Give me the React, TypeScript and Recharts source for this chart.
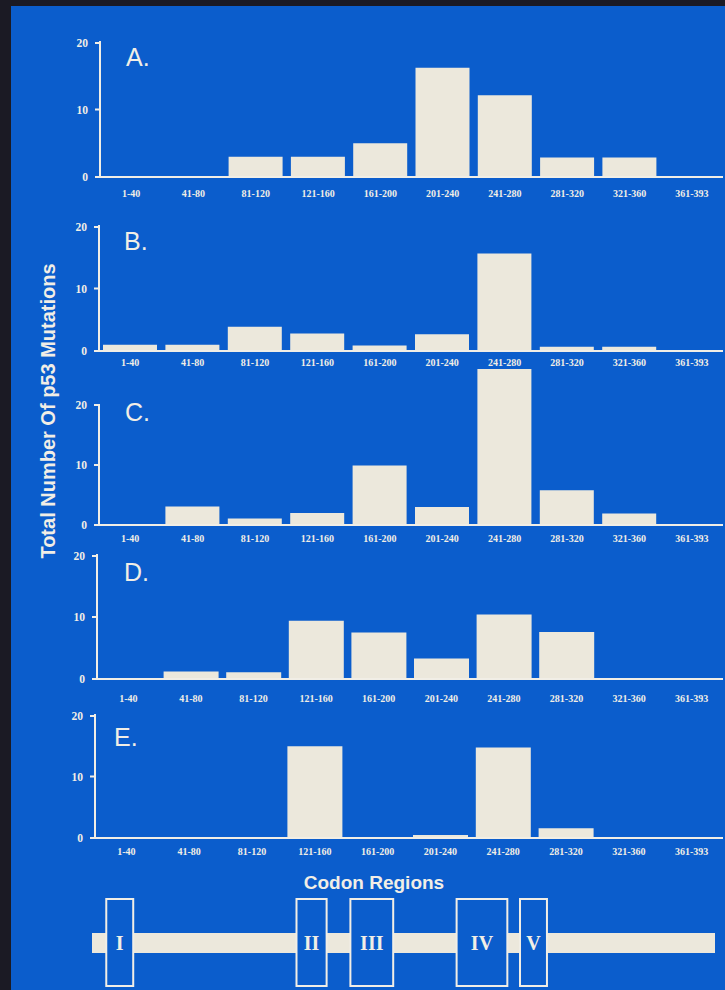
import React from "react";
import { BarChart, Bar, XAxis, YAxis, ComposedChart } from "recharts";

// codon regions along the x axis of every panel
const regions = [
  "1-40", "41-80", "81-120", "121-160", "161-200",
  "201-240", "241-280", "281-320", "321-360", "361-393",
];

// mutation counts per region
const countsA = [0, 0, 3, 3, 5, 16.2, 12.1, 2.9, 2.9, 0];
const countsB = [1, 1, 3.9, 2.8, 0.9, 2.7, 15.6, 0.7, 0.7, 0];
const countsC = [0, 3.1, 1.1, 2, 9.9, 3, 26, 5.8, 1.9, 0];
const countsD = [0, 1.2, 1.1, 9.4, 7.5, 3.3, 10.4, 7.6, 0, 0];
const countsE = [0, 0, 0, 14.9, 0, 0.5, 14.7, 1.6, 0, 0];

const yTicks = [0, 10, 20];

// conserved domains drawn on the p53 backbone (codon start / end)
const domainLabels = ["I", "II", "III", "IV", "V"];
const domainStart = [9, 129, 163, 230, 270];
const domainEnd = [26, 148, 190, 262, 287];
const codonCount = 393;

const PAGE_BG = "#1b1a24";
const BLUE = "#0b5dcc";
const CREAM = "#ece8dc";
const INK = "#f1eee6";

// where each panel sits on the slide
const panels = [
  { letter: "A.", counts: countsA, axisX: 100, y20: 42, y0: 177, labelGap: 13, lx: 126, ly: 66 },
  { letter: "B.", counts: countsB, axisX: 99, y20: 226, y0: 351, labelGap: 8, lx: 124, ly: 250 },
  { letter: "C.", counts: countsC, axisX: 99, y20: 405, y0: 525, labelGap: 10, lx: 125, ly: 421 },
  { letter: "D.", counts: countsD, axisX: 97, y20: 555, y0: 679, labelGap: 16, lx: 124, ly: 581 },
  { letter: "E.", counts: countsE, axisX: 95, y20: 715, y0: 838, labelGap: 10, lx: 114, ly: 746 },
];

function YTick(props: any) {
  const { x, y, payload, span } = props;
  return (
    <g>
      <line x1={x - 5} x2={x} y1={y} y2={y} stroke={INK} strokeWidth={2} />
      <text
        x={x - 12}
        y={y}
        dy={4}
        textAnchor="end"
        fill={INK}
        fontSize={11.5}
        fontWeight={700}
        fontFamily="'Liberation Serif', serif"
      >
        {payload.value}
      </text>
      {payload.value === 0 && (
        <line x1={x} x2={x} y1={y + 1} y2={y - span - 1} stroke={INK} strokeWidth={2} />
      )}
    </g>
  );
}

function Panel({ counts, axisX, y20, y0, labelGap }: any) {
  const span = y0 - y20;
  const max = Math.max(20, ...counts);
  const plotTop = y0 - (span * max) / 20;
  const mTop = 8;
  const xAxisH = 26;
  const top = plotTop - mTop;
  const height = y0 - top + xAxisH;
  const rows = regions.map((r, i) => ({ region: r, count: counts[i] }));

  return (
    <div style={{ position: "absolute", left: 0, top }}>
      <BarChart
        width={725}
        height={height}
        data={rows}
        margin={{ top: mTop, right: 2, bottom: 0, left: 0 }}
        barCategoryGap={4}
      >
        <XAxis
          dataKey="region"
          interval={0}
          height={xAxisH}
          axisLine={{ stroke: INK, strokeWidth: 2 }}
          tickLine={false}
          tickSize={0}
          tickMargin={labelGap}
          tick={{ fill: INK, fontSize: 10, fontWeight: 700, fontFamily: "'Liberation Serif', serif" }}
        />
        <YAxis
          width={axisX}
          domain={[0, max]}
          ticks={yTicks}
          axisLine={false}
          tickLine={false}
          tickSize={0}
          tickMargin={0}
          tick={(p: any) => <YTick {...p} span={span} />}
        />
        <Bar dataKey="count" fill={CREAM} isAnimationActive={false} />
      </BarChart>
    </div>
  );
}

// p53 backbone with the five conserved boxes, as range bars on a codon scale
function DomainMap() {
  const row: Record<string, any> = { name: "p53", backbone: [0, codonCount] };
  domainLabels.forEach((d, i) => {
    row[d] = [domainStart[i], domainEnd[i]];
  });
  return (
    <div style={{ position: "absolute", left: 90, top: 896 }}>
      <ComposedChart
        layout="vertical"
        width={627}
        height={93}
        data={[row]}
        margin={{ top: 2, right: 2, bottom: 2, left: 2 }}
      >
        <XAxis type="number" domain={[0, codonCount]} hide />
        <YAxis yAxisId="backbone" type="category" dataKey="name" hide />
        {domainLabels.map((d) => (
          <YAxis key={"axis-" + d} yAxisId={d} type="category" dataKey="name" hide />
        ))}
        <Bar yAxisId="backbone" dataKey="backbone" barSize={20} fill={CREAM} isAnimationActive={false} />
        {domainLabels.map((d) => (
          <Bar
            key={d}
            yAxisId={d}
            dataKey={d}
            barSize={87}
            fill={BLUE}
            stroke={INK}
            strokeWidth={2}
            isAnimationActive={false}
            label={{
              position: "center",
              fill: INK,
              fontSize: 20,
              fontWeight: 700,
              fontFamily: "'Liberation Serif', serif",
              formatter: () => d,
            }}
          />
        ))}
      </ComposedChart>
    </div>
  );
}

export default function App() {
  return (
    <div style={{ position: "absolute", left: 0, top: 0, width: 725, height: 990, background: PAGE_BG, overflow: "hidden" }}>
      <div style={{ position: "absolute", left: 11, top: 6, width: 714, height: 984, background: BLUE }} />
      {panels.map((p) => (
        <Panel key={p.letter} {...p} />
      ))}
      <DomainMap />
      <svg width={725} height={990} style={{ position: "absolute", left: 0, top: 0, pointerEvents: "none" }}>
        {panels.map((p) => (
          <text key={p.letter} x={p.lx} y={p.ly} fill={INK} fontSize={25} fontFamily="'Liberation Sans', sans-serif">
            {p.letter}
          </text>
        ))}
        <text
          transform="translate(48,411) rotate(-90)"
          textAnchor="middle"
          dominantBaseline="central"
          fill={INK}
          fontSize={20}
          fontWeight={700}
          fontFamily="'Liberation Sans', sans-serif"
        >
          Total Number Of p53 Mutations
        </text>
        <text
          x={374}
          y={882}
          textAnchor="middle"
          dominantBaseline="central"
          fill={INK}
          fontSize={19}
          fontWeight={700}
          fontFamily="'Liberation Sans', sans-serif"
        >
          Codon Regions
        </text>
      </svg>
    </div>
  );
}
